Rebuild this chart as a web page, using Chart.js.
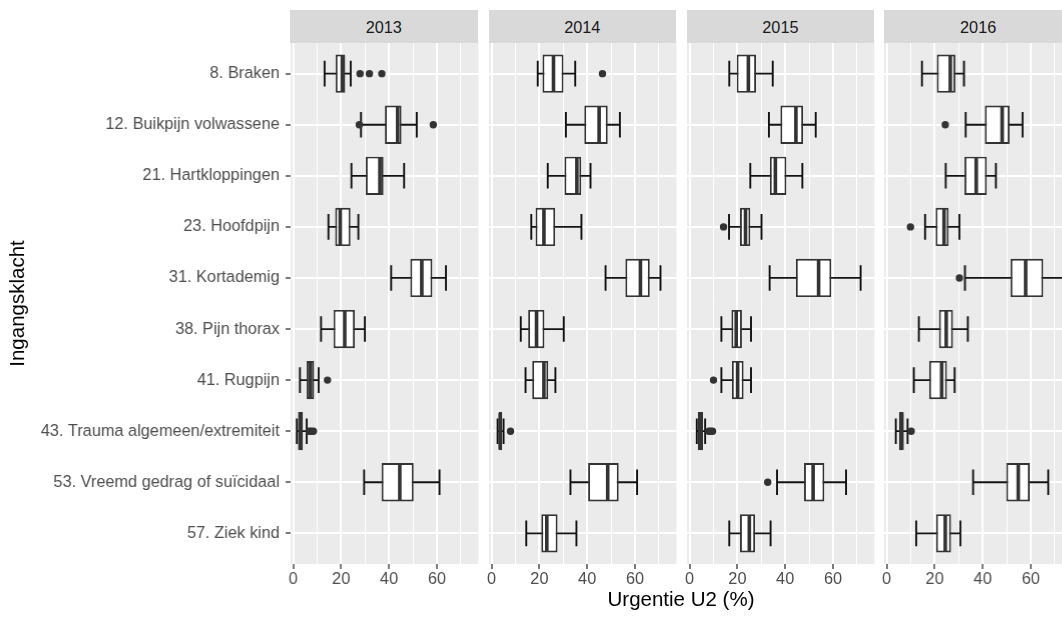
<!DOCTYPE html>
<html><head><meta charset="utf-8">
<script src="https://cdn.jsdelivr.net/npm/chart.js@4"></script>
<style>
html,body{margin:0;padding:0;background:#fff;width:1062px;height:621px;overflow:hidden;font-family:'Liberation Sans',Arial,sans-serif;}
.panel{position:absolute;}
.strip{position:absolute;top:10px;height:33px;background:#D9D9D9;color:#1A1A1A;font-size:16.3px;line-height:34px;text-align:center;}
#xtitle{position:absolute;top:587px;left:290px;width:782px;text-align:center;font-size:20.5px;color:#000;}
</style></head><body>
<div id="root"></div>
<div id="xtitle">Urgentie U2 (%)</div>
<script>
const categories = ['8. Braken','12. Buikpijn volwassene','21. Hartkloppingen','23. Hoofdpijn','31. Kortademig','38. Pijn thorax','41. Rugpijn','43. Trauma algemeen/extremiteit','53. Vreemd gedrag of suïcidaal','57. Ziek kind'];
const years = ['2013','2014','2015','2016'];
const xMajor = [0,20,40,60];
const xMinor = [10,30,50,70];

// [whisker min, Q1, median, Q3, whisker max] per category (null = no data)
const stats2013 = [[13.1,17.7,20.5,21.7,24.0],[28.3,38.3,43.6,45.2,51.6],[24.3,30.3,36.2,37.7,46.3],[14.7,17.5,19.6,23.9,27.2],[40.9,48.9,53.7,58.1,63.8],[11.6,16.8,21.5,25.7,29.9],[2.8,5.6,7.2,8.7,10.6],[1.5,2.0,3.0,4.0,5.6],[29.6,36.9,44.5,50.3,61.1],null];
const stats2014 = [[19.3,21.3,25.9,30.1,35.0],[31.1,38.8,45.0,48.6,53.7],[23.5,30.5,35.7,37.5,41.4],[16.6,18.4,21.9,26.6,37.6],[47.7,56.0,62.3,66.2,70.7],[12.2,15.3,18.8,22.1,30.2],[14.2,17.0,21.9,23.7,26.7],[2.5,2.9,3.6,4.4,5.0],[33.0,40.4,48.6,53.2,60.9],[14.5,20.8,23.1,27.6,35.5]];
const stats2015 = [[16.6,19.7,24.6,27.8,34.8],[33.2,38.0,44.5,47.5,52.8],[25.4,33.6,35.9,40.5,47.2],[16.5,21.1,23.4,25.4,30.1],[33.5,44.5,54.0,59.3,71.6],[13.3,17.5,19.5,21.9,25.7],[13.3,17.7,20.1,22.6,25.7],[3.0,3.4,4.5,5.6,6.5],[36.6,47.9,51.7,56.4,65.5],[16.6,21.1,25.0,27.4,33.9]];
const stats2016 = [[14.7,20.9,26.5,28.6,32.2],[32.9,40.9,48.1,51.2,56.6],[24.6,32.4,37.3,41.7,45.5],[16.0,20.4,23.9,25.8,30.3],[32.6,51.6,57.9,65.2,74.0],[13.4,21.8,24.8,27.6,33.8],[11.3,17.7,22.9,25.1,28.3],[3.8,5.2,6.2,7.1,8.7],[36.0,49.8,54.8,59.6,67.3],[12.3,20.6,24.4,26.8,30.7]];

// outliers per category
const out2013 = [[27.9,31.8,37.0],[27.6,58.5],[],[],[],[],[14.3],[6.6,7.4,8.4],[],[]];
const out2014 = [[46.4],[],[],[],[],[],[],[7.9],[],[]];
const out2015 = [[],[],[],[14.2],[],[],[10.0],[8.0,8.8,9.6],[32.7],[]];
const out2016 = [[],[24.4],[],[9.9],[30.3],[],[],[10.2],[],[]];

const allStats = [stats2013, stats2014, stats2015, stats2016];
const allOut = [out2013, out2014, out2015, out2016];

const PANEL_LEFT = [290, 488.5, 686.7, 884.4];
const PANEL_W = 187.5, PANEL_TOP = 43, PANEL_H = 521, AXIS_H = 32, YAXIS_W = 290, GUTTER = 8;
const FONT = "'Liberation Sans', Arial, sans-serif";

const panelBg = {
  id: 'panelBg',
  beforeDraw(chart) {
    const {ctx, chartArea: a} = chart;
    ctx.save();
    ctx.fillStyle = '#EBEBEB';
    ctx.fillRect(a.left, a.top, a.right - a.left, a.bottom - a.top);
    ctx.restore();
  }
};

const root = document.getElementById('root');
years.forEach((yr, p) => {
  const first = p === 0;
  const yw = first ? YAXIS_W : GUTTER;
  const left = PANEL_LEFT[p] - yw;
  const width = yw + PANEL_W + 6;

  const strip = document.createElement('div');
  strip.className = 'strip';
  strip.style.left = PANEL_LEFT[p] + 'px';
  strip.style.width = PANEL_W + 'px';
  strip.textContent = yr;
  root.appendChild(strip);

  const div = document.createElement('div');
  div.className = 'panel';
  div.style.left = left + 'px';
  div.style.top = PANEL_TOP + 'px';
  div.style.width = width + 'px';
  div.style.height = (PANEL_H + AXIS_H) + 'px';
  const cv = document.createElement('canvas');
  div.appendChild(cv);
  root.appendChild(div);

  const stats = allStats[p], outs = allOut[p];
  const whiskers = [], boxes = [], medians = [], caps = [], outliers = [];
  stats.forEach((s, i) => {
    if (!s) return;
    const y = i + 1;
    whiskers.push({x: [s[0], s[4]], y});
    boxes.push({x: [s[1], s[3]], y});
    medians.push({x: s[2], y});
    caps.push({x: s[0], y}, {x: s[4], y});
  });
  outs.forEach((arr, i) => arr.forEach(v => outliers.push({x: v, y: i + 1})));

  const isMajor = c => c.tick && xMajor.includes(c.tick.value);

  new Chart(cv, {
    type: 'scatter',
    data: {
      datasets: [
        {type: 'bar', indexAxis: 'y', data: whiskers, grouped: false, maxBarThickness: 1.8,
         backgroundColor: '#111', borderWidth: 0, order: 5},
        {type: 'bar', indexAxis: 'y', data: boxes, grouped: false, barPercentage: 0.75, categoryPercentage: 1,
         backgroundColor: '#FFFFFF', borderColor: '#333333', borderWidth: 1.9, borderSkipped: false, order: 4},
        {type: 'scatter', data: caps, pointStyle: 'line', rotation: 90, radius: 12.8,
         borderColor: '#111', borderWidth: 1.9, order: 3},
        {type: 'scatter', data: medians, pointStyle: 'line', rotation: 90, radius: 18,
         borderColor: '#333333', borderWidth: 3.6, order: 2},
        {type: 'scatter', data: outliers, pointStyle: 'circle', radius: 3.7,
         backgroundColor: '#333333', borderWidth: 0, order: 1}
      ]
    },
    options: {
      responsive: true, maintainAspectRatio: false, animation: false, events: [],
      layout: {padding: {left: 0, top: 0, bottom: 0, right: 6}, autoPadding: false},
      plugins: {legend: {display: false}, tooltip: {enabled: false}, title: {display: false}},
      scales: {
        x: {
          type: 'linear', min: -1.1, max: 77.4, offset: false,
          afterBuildTicks: s => { s.ticks = [...xMajor, ...xMinor].sort((a, b) => a - b).map(v => ({value: v})); },
          afterFit: s => { s.height = AXIS_H; s.paddingLeft = 0; s.paddingRight = 0; },
          ticks: {autoSkip: false, maxRotation: 0, color: '#4D4D4D', padding: 1,
                  font: {family: FONT, size: 16.3},
                  callback: v => xMajor.includes(v) ? String(v) : ''},
          grid: {offset: false, color: '#FFFFFF', lineWidth: c => isMajor(c) ? 2 : 1,
                 tickColor: c => isMajor(c) ? '#333333' : 'rgba(0,0,0,0)',
                 tickLength: 5, tickWidth: 1.3},
          border: {display: false}
        },
        y: {
          type: 'linear', min: 0.4, max: 10.6, reverse: true, offset: false,
          afterBuildTicks: s => { s.ticks = categories.map((c, i) => ({value: i + 1})); },
          afterFit: s => { s.width = yw; s.paddingTop = 0; s.paddingBottom = 0; },
          ticks: {display: first, autoSkip: false, color: '#4D4D4D', padding: 6,
                  font: {family: FONT, size: 16.3},
                  callback: v => categories[v - 1]},
          grid: {offset: false, color: '#FFFFFF', lineWidth: 2, drawTicks: first, tickLength: 5,
                 tickColor: '#333333', tickWidth: 1.3},
          border: {display: false},
          title: {display: first, text: 'Ingangsklacht', color: '#000',
                  font: {family: FONT, size: 20.5}, padding: {top: 6, bottom: 0}}
        }
      }
    },
    plugins: [panelBg]
  });
});
</script>
</body></html>
